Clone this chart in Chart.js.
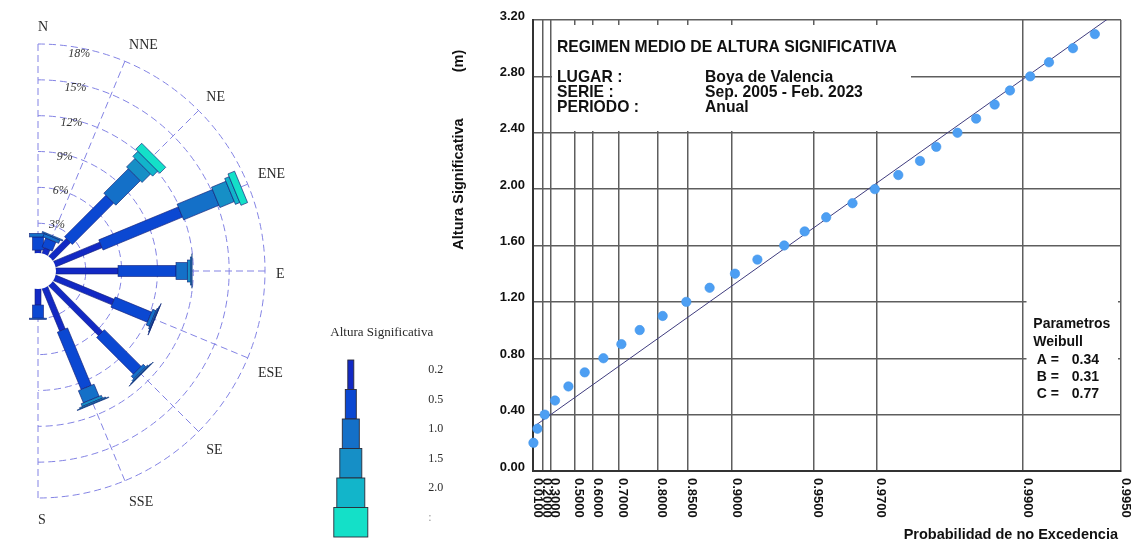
<!DOCTYPE html>
<html>
<head>
<meta charset="utf-8">
<script src="https://cdn.jsdelivr.net/npm/chart.js@4.4.1/dist/chart.umd.min.js"></script>
<style>
  html, body { margin: 0; padding: 0; background: #fff; width: 1136px; height: 543px; overflow: hidden; position: relative; }
  #rose { position: absolute; left: -242px; top: 0; }
  #weibull { position: absolute; left: 440px; top: 0; }
</style>
</head>
<body>
<canvas id="rose" width="700" height="543"></canvas>
<canvas id="weibull" width="696" height="543"></canvas>
<script>
// ---------- Wave rose: frequency (%) per direction and Hs class ----------
const directions = ['N', 'NNE', 'NE', 'ENE', 'E', 'ESE', 'SE', 'SSE', 'S', 'SSW', 'SW', 'WSW', 'W', 'WNW', 'NW', 'NNW'];
const classLabels = ['0.2', '0.5', '1.0', '1.5', '2.0', ':'];
const freqHs02   = [0.75, 1.00, 2.60, 4.70, 5.70, 5.80, 6.40, 4.35, 1.85, 0, 0, 0, 0, 0, 0, 0];
const freqHs05   = [1.10, 0.80, 4.90, 7.20, 4.85, 3.30, 4.35, 5.20, 1.10, 0, 0, 0, 0, 0, 0, 0];
const freqHs10   = [0.30, 0.30, 2.90, 3.20, 0.95, 0.30, 0.30, 1.10, 0.10, 0, 0, 0, 0, 0, 0, 0];
const freqHs15   = [0.00, 0.10, 1.00, 1.30, 0.25, 0.10, 0.10, 0.25, 0.00, 0, 0, 0, 0, 0, 0, 0];
const freqHs20   = [0.00, 0.00, 0.60, 0.40, 0.12, 0.05, 0.05, 0.10, 0.00, 0, 0, 0, 0, 0, 0, 0];
const freqHsOver = [0.00, 0.00, 0.70, 0.60, 0.03, 0.02, 0.02, 0.05, 0.00, 0, 0, 0, 0, 0, 0, 0];
const ringPercents = [3, 6, 9, 12, 15, 18];

// ---------- Weibull plot: sample heights and their non-exceedance probability ----------
const heights = [0.2, 0.3, 0.4, 0.5, 0.6, 0.7, 0.8, 0.9, 1.0, 1.1, 1.2, 1.3, 1.4, 1.5, 1.6,
                 1.7, 1.8, 1.9, 2.0, 2.1, 2.2, 2.3, 2.4, 2.5, 2.6, 2.7, 2.8, 2.9, 3.0, 3.1];
const nonExceedance = [0.0260, 0.1186, 0.2311, 0.3461, 0.4572, 0.5582, 0.6449, 0.7086, 0.7595, 0.8090,
                       0.8479, 0.8775, 0.9025, 0.9199, 0.9363, 0.9463, 0.9550, 0.9636, 0.9695, 0.9746,
                       0.9785, 0.9810, 0.9838, 0.9859, 0.9877, 0.9890, 0.9905, 0.9917, 0.9930, 0.9940];
const probTicks = [0.01, 0.2, 0.3, 0.5, 0.6, 0.7, 0.8, 0.85, 0.9, 0.95, 0.97, 0.99, 0.995];
const probTickLabels = ['0.0100', '0.2000', '0.3000', '0.5000', '0.6000', '0.7000', '0.8000',
                        '0.8500', '0.9000', '0.9500', '0.9700', '0.9900', '0.9950'];
const heightTicks = [0, 0.4, 0.8, 1.2, 1.6, 2.0, 2.4, 2.8, 3.2];
const weibullA = 0.34;
const weibullB = 0.31;
const weibullC = 0.77;

// ---------- styles ----------
const SANS = '"Liberation Sans", Arial, Helvetica, sans-serif';
const SERIF = '"Liberation Serif", "Times New Roman", Times, serif';
const ROSE_GRID = '#8383e4';
const PLOT_GRID = '#5e5e5e';
const classColors = ['#1229c4', '#0b48d2', '#1470c8', '#168fc6', '#12b5ca', '#14e0c8'];
const classWidths = [6, 11, 17, 22, 28, 34];

// Weibull probability paper: abscissa is linear in (-ln(1-p))^(1/C)
const tOf = p => Math.pow(-Math.log(1 - p), 1 / weibullC);
const tMin = tOf(probTicks[0]);
const tMax = tOf(probTicks[probTicks.length - 1]);

// ---------- rose drawing ----------
const roseLayer = {
  id: 'roseLayer',
  beforeDatasetsDraw(chart) {
    const s = chart.scales.r, ctx = chart.ctx;
    ctx.save();
    ctx.strokeStyle = ROSE_GRID;
    ctx.lineWidth = 1;
    ctx.setLineDash([7, 4]);
    ringPercents.forEach(v => {
      ctx.beginPath();
      ctx.arc(s.xCenter, s.yCenter, s.getDistanceFromCenterForValue(v), -Math.PI / 2, Math.PI / 2);
      ctx.stroke();
    });
    ctx.restore();
  },
  afterDatasetsDraw(chart) {
    const s = chart.scales.r, ctx = chart.ctx, a = chart.chartArea;
    const xc = s.xCenter, yc = s.yCenter;
    ctx.save();
    // stacked bars, one per direction, widening with the Hs class
    directions.forEach((d, i) => {
      let cum = 0;
      const ang = s.getIndexAngle(i) - Math.PI / 2;
      chart.data.datasets.forEach((ds, k) => {
        const v = ds.data[i];
        if (!v) return;
        const r0 = s.getDistanceFromCenterForValue(cum);
        const r1 = s.getDistanceFromCenterForValue(cum + v);
        cum += v;
        const w = classWidths[k];
        ctx.save();
        ctx.translate(xc, yc);
        ctx.rotate(ang);
        ctx.fillStyle = ds.backgroundColor;
        ctx.fillRect(r0, -w / 2, r1 - r0, w);
        ctx.strokeStyle = 'rgba(18,30,120,0.85)';
        ctx.lineWidth = 0.7;
        ctx.strokeRect(r0, -w / 2, r1 - r0, w);
        ctx.restore();
      });
    });
    // calm hub
    ctx.beginPath();
    ctx.arc(xc, yc, 18, 0, Math.PI * 2);
    ctx.fillStyle = '#fff';
    ctx.fill();

    // direction names (eastern half)
    ctx.fillStyle = '#2a2a2a';
    ctx.font = `14px ${SERIF}`;
    ctx.textBaseline = 'middle';
    const R = s.drawingArea;
    directions.forEach((d, i) => {
      if (i > 8) return;
      const ang = s.getIndexAngle(i);
      const sn = Math.sin(ang), cs = Math.cos(ang);
      const x = xc + (R + 11) * sn;
      let y = yc - (R + 11) * cs;
      if (cs > 0.01) y -= 8.4; else if (cs < -0.01) y += 8.4;
      ctx.textAlign = 'left';
      ctx.fillText(d, x, y + 3);
    });

    // ring percentages
    ctx.font = `italic 12px ${SERIF}`;
    ctx.fillStyle = '#333';
    ctx.textAlign = 'left';
    ringPercents.forEach(v => {
      const r = s.getDistanceFromCenterForValue(v);
      ctx.fillText(v + '%', xc + 5.8 + 0.108 * r, yc - 0.956 * r);
    });

    // height-class key
    const lx = a.right + 32.8;
    const top = 360, segH = 29.5;
    ctx.font = `13px ${SERIF}`;
    ctx.fillStyle = '#2a2a2a';
    ctx.textAlign = 'center';
    ctx.fillText('Altura Significativa', lx + 31, 333);
    classLabels.forEach((lab, k) => {
      const w = classWidths[k], y0 = top + k * segH;
      ctx.fillStyle = classColors[k];
      ctx.fillRect(lx - w / 2, y0, w, segH);
      ctx.strokeStyle = '#2b2b3a';
      ctx.lineWidth = 0.9;
      ctx.strokeRect(lx - w / 2, y0, w, segH);
      ctx.fillStyle = k === classLabels.length - 1 ? '#9a9a9a' : '#2a2a2a';
      ctx.font = `12px ${SERIF}`;
      ctx.textAlign = 'left';
      ctx.fillText(lab, lx + 77.5, y0 + 10);
    });
    ctx.restore();
  }
};

new Chart(document.getElementById('rose'), {
  type: 'radar',
  data: {
    labels: directions,
    datasets: [freqHs02, freqHs05, freqHs10, freqHs15, freqHs20, freqHsOver].map((data, k) => ({
      label: classLabels[k],
      data,
      backgroundColor: classColors[k],
      showLine: false,
      fill: false,
      pointRadius: 0,
      pointHitRadius: 0,
      borderWidth: 0
    }))
  },
  options: {
    responsive: false,
    animation: false,
    devicePixelRatio: 1,
    events: [],
    layout: { padding: { left: 0, right: 140, top: 44, bottom: 45 } },
    plugins: { legend: { display: false }, tooltip: { enabled: false } },
    scales: {
      r: {
        min: -1,
        max: 18,
        ticks: { display: false, stepSize: 3 },
        grid: { display: false },
        pointLabels: { display: false },
        angleLines: {
          display: true,
          color: c => (c.index <= 8 ? ROSE_GRID : 'rgba(0,0,0,0)'),
          lineWidth: 1,
          borderDash: [7, 4]
        }
      }
    }
  },
  plugins: [roseLayer]
});

// ---------- Weibull plot drawing ----------
const weibullLayer = {
  id: 'weibullLayer',
  beforeDatasetsDraw(chart) {
    const { ctx, chartArea: a } = chart;
    ctx.save();
    ctx.fillStyle = '#fff';
    ctx.fillRect(a.left + 19, a.top + 5, 359, 106);
    ctx.fillRect(a.left + 493.5, a.top + 230, 91.5, 160);
    ctx.restore();
  },
  afterDraw(chart) {
    const { ctx, chartArea: a, scales: { x } } = chart;
    ctx.save();
    ctx.fillStyle = '#111';

    // probability labels, reading downwards
    ctx.font = `bold 13px ${SANS}`;
    ctx.textAlign = 'left';
    ctx.textBaseline = 'alphabetic';
    x.ticks.forEach((t, i) => {
      const px = x.getPixelForValue(t.value);
      ctx.save();
      ctx.translate(px + 0.5, a.bottom + 7);
      ctx.rotate(Math.PI / 2);
      ctx.fillText(probTickLabels[i], 0, 0);
      ctx.restore();
    });

    // axis titles
    ctx.font = `bold 14.5px ${SANS}`;
    ctx.textBaseline = 'middle';
    ctx.textAlign = 'right';
    ctx.fillText('Probabilidad de no Excedencia', a.right - 3, 535);
    ctx.textAlign = 'center';
    ctx.save();
    ctx.translate(19, 184);
    ctx.rotate(-Math.PI / 2);
    ctx.fillText('Altura Significativa', 0, 0);
    ctx.restore();
    ctx.save();
    ctx.translate(19, 61);
    ctx.rotate(-Math.PI / 2);
    ctx.fillText('(m)', 0, 0);
    ctx.restore();

    // header block
    ctx.textAlign = 'left';
    ctx.font = `bold 15.7px ${SANS}`;
    ctx.fillText('REGIMEN MEDIO DE ALTURA SIGNIFICATIVA', a.left + 24, 48);
    const rows = [['LUGAR :', 'Boya de Valencia'], ['SERIE :', 'Sep. 2005 - Feb. 2023'], ['PERIODO :', 'Anual']];
    const rowY = [78, 93, 108];
    rows.forEach((r, i) => {
      ctx.fillText(r[0], a.left + 24, rowY[i]);
      ctx.fillText(r[1], a.left + 172, rowY[i]);
    });

    // fitted parameters
    ctx.font = `bold 14px ${SANS}`;
    ctx.fillText('Parametros', a.left + 500.3, 324.5);
    ctx.fillText('Weibull', a.left + 500.3, 341.7);
    const params = [['A =', weibullA], ['B =', weibullB], ['C =', weibullC]];
    params.forEach((p, i) => {
      const y = 360 + i * 17;
      ctx.fillText(p[0], a.left + 503.7, y);
      ctx.fillText(p[1].toFixed(2), a.left + 538.7, y);
    });
    ctx.restore();
  }
};

new Chart(document.getElementById('weibull'), {
  type: 'scatter',
  data: {
    datasets: [
      {
        type: 'scatter',
        label: 'Hs',
        data: heights.map((h, i) => ({ x: tOf(nonExceedance[i]), y: h })),
        pointRadius: 4.7,
        pointBackgroundColor: '#4d9ff3',
        pointBorderColor: '#3f93ea',
        pointBorderWidth: 0.6,
        clip: 8
      },
      {
        type: 'line',
        label: 'Weibull',
        data: [tMin, tMax].map(t => ({ x: t, y: weibullB + weibullA * t })),
        borderColor: '#3f3c7e',
        borderWidth: 1,
        pointRadius: 0,
        fill: false,
        tension: 0
      }
    ]
  },
  options: {
    responsive: false,
    animation: false,
    devicePixelRatio: 1,
    events: [],
    layout: { padding: { top: 20, right: 15, bottom: 0, left: 0 } },
    plugins: { legend: { display: false }, tooltip: { enabled: false } },
    scales: {
      x: {
        type: 'linear',
        min: tMin,
        max: tMax,
        afterBuildTicks: sc => { sc.ticks = probTicks.map(p => ({ value: tOf(p) })); },
        afterFit: sc => { sc.height = 72; },
        ticks: { display: false },
        grid: { color: PLOT_GRID, lineWidth: 1.5, drawTicks: false },
        border: { display: true, color: '#333', width: 2 }
      },
      y: {
        min: 0,
        max: 3.2,
        afterBuildTicks: sc => { sc.ticks = heightTicks.map(v => ({ value: v })); },
        afterFit: sc => { sc.width = 93; },
        ticks: {
          callback: v => Number(v).toFixed(2),
          font: { family: SANS, size: 13, weight: 'bold' },
          color: '#111',
          padding: 8,
          labelOffset: -4
        },
        grid: { color: PLOT_GRID, lineWidth: 1.5, drawTicks: false },
        border: { display: true, color: '#333', width: 2 }
      }
    }
  },
  plugins: [weibullLayer]
});
</script>
</body>
</html>
